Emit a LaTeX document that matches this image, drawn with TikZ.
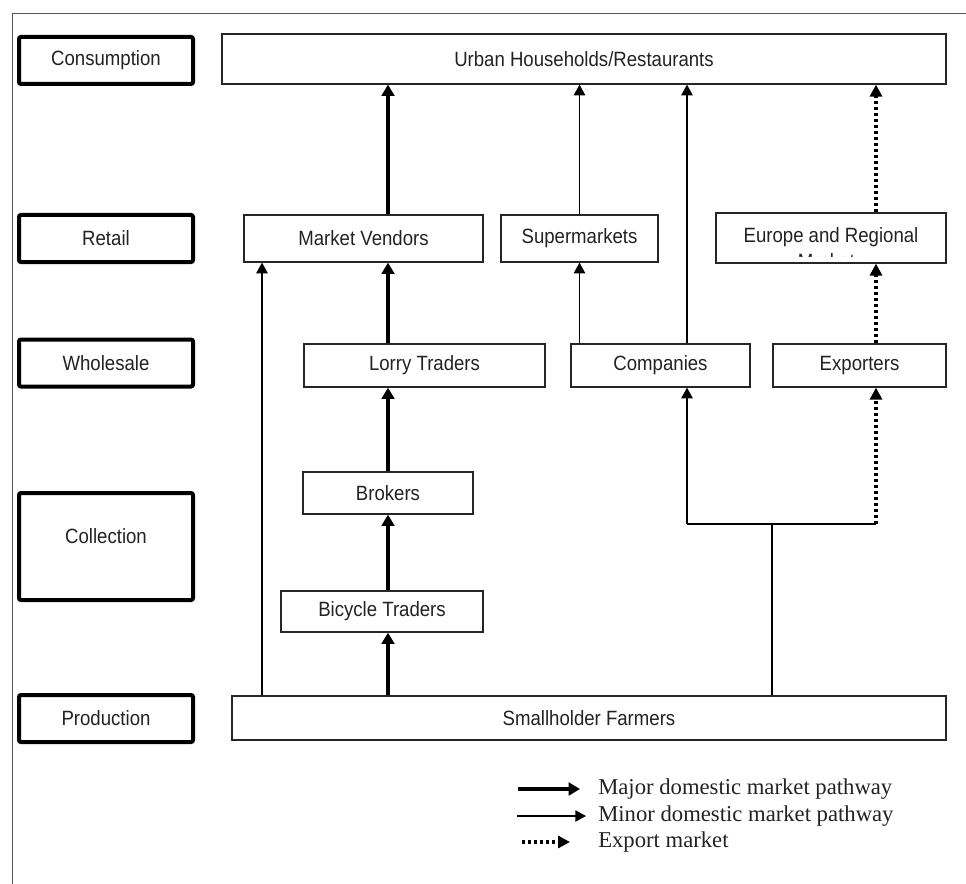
\documentclass[tikz,border=0pt]{standalone}
\usepackage{fontspec}
\setmainfont{Liberation Sans}[FakeStretch=0.9]
\newfontfamily\legfont{Liberation Serif}
\usetikzlibrary{positioning,calc,arrows.meta}
\definecolor{txtgray}{HTML}{222222}
\definecolor{framegray}{HTML}{555555}

\begin{document}
\begin{tikzpicture}[x=0.75pt,y=-0.75pt,font=\fontsize{15.5}{18}\selectfont,text=txtgray,
    stage/.style={draw=black,line width=3pt,rounded corners=1.5pt,minimum width=130.5pt,minimum height=35.25pt,inner sep=0pt,align=center},
    box/.style={draw=black!85,line width=0.9pt,minimum height=35.25pt,inner sep=0pt},
    major/.style={line width=3pt,-{Triangle[width=9.5pt,length=8.5pt]}},
    minor/.style={line width=1pt,-{Triangle[width=8.5pt,length=8pt]}},
    export/.style={line width=3pt,dash pattern=on 2.25pt off 2.25pt,-{Triangle[width=9pt,length=9pt]}},
    legend/.style={font=\legfont\fontsize{17}{18}\selectfont,anchor=west,inner sep=0pt}]
    \useasboundingbox (0,0) rectangle (966,884);
    \draw[framegray,line width=0.75pt] (966,14) -- (12,14) -- (12,884);

    \node[stage] (cons) at (106,60.5) {Consumption};
    \node[stage] (ret) at (106,238.5) {Retail};
    \node[stage] (whs) at (106,363) {Wholesale};
    \node[stage,minimum height=80.25pt] (col) at (106,546.5) {Collection\\[-8pt]\strut};
    \node[stage] (prod) at (106,718.5) {Production};

    \node[box,minimum width=543pt,minimum height=37.5pt] (urban) at (584,59) {Urban Households/Restaurants};
    \node[box,minimum width=179.25pt] (mv) at (363.5,238.5) {Market Vendors};
    \node[box,minimum width=117.75pt] (sm) at (579.5,238.5) {Supermarkets};
    \node[box,minimum width=172.5pt,minimum height=37.5pt] (eu) at (831,238) {};
    \begin{scope}
      \clip (eu.north west) rectangle ([yshift=5.25pt]eu.south east);
      \node (eut) at (831,237) {Europe and Regional};
      \node (eum) at (831,261) {Markets};
    \end{scope}
    \node[box,minimum width=180.75pt,minimum height=32.25pt] (lt) at (424.5,365.5) {Lorry Traders};
    \node[box,minimum width=134.25pt,minimum height=32.25pt] (co) at (660.5,365.5) {Companies};
    \node[box,minimum width=129.75pt,minimum height=32.25pt] (ex) at (859.5,365.5) {Exporters};
    \node[box,minimum width=127.5pt,minimum height=31.5pt] (br) at (388,493) {Brokers};
    \node[box,minimum width=151.5pt,minimum height=30.75pt] (bt) at (382,611.5) {Bicycle Traders};
    \node[box,minimum width=535.5pt,minimum height=33pt] (sf) at (589,718) {Smallholder Farmers};

    \coordinate (mn) at (262,0);
    \coordinate (cx) at (687,524);
    \coordinate (sp) at (772,524);
    \coordinate (xx) at (876,524);

    \draw[major] (sf.north -| br) -- (bt.south -| br);
    \draw[major] (bt.north -| br) -- (br.south);
    \draw[major] (br.north) -- (lt.south -| br);
    \draw[major] (lt.north -| br) -- (mv.south -| br);
    \draw[major] (mv.north -| br) -- (urban.south -| br);
    \draw[minor] (sf.north -| mn) -- (mv.south -| mn);
    \draw[minor] (co.north -| sm) -- (sm.south);
    \draw[minor] (sm.north) -- (urban.south -| sm);
    \draw[minor] (co.north -| cx) -- (urban.south -| cx);
    \draw[line width=1pt] (sf.north -| sp) -- (sp) (cx) -- (xx);
    \draw[minor] (cx) -- (co.south -| cx);
    \draw[export] (xx) -- (ex.south -| xx);
    \draw[export] (ex.north -| xx) -- (eu.south -| xx);
    \draw[export] (eu.north -| xx) -- (urban.south -| xx);

    \node[legend] (lg1) at (598,789) {Major domestic market pathway};
    \node[legend] (lg2) at (598,816) {Minor domestic market pathway};
    \node[legend] (lg3) at (598,842) {Export market};
    \coordinate (k1) at (518,789);
    \coordinate (k2) at (517,816);
    \coordinate (k3) at (522,842);
    \draw[major] (k1) -- ([xshift=-13.5pt]lg1.west);
    \draw[minor] (k2) -- ([xshift=-9pt]lg2.west);
    \draw[export] (k3) -- ([xshift=-21pt]lg3.west);
  \end{tikzpicture}
\end{document}
